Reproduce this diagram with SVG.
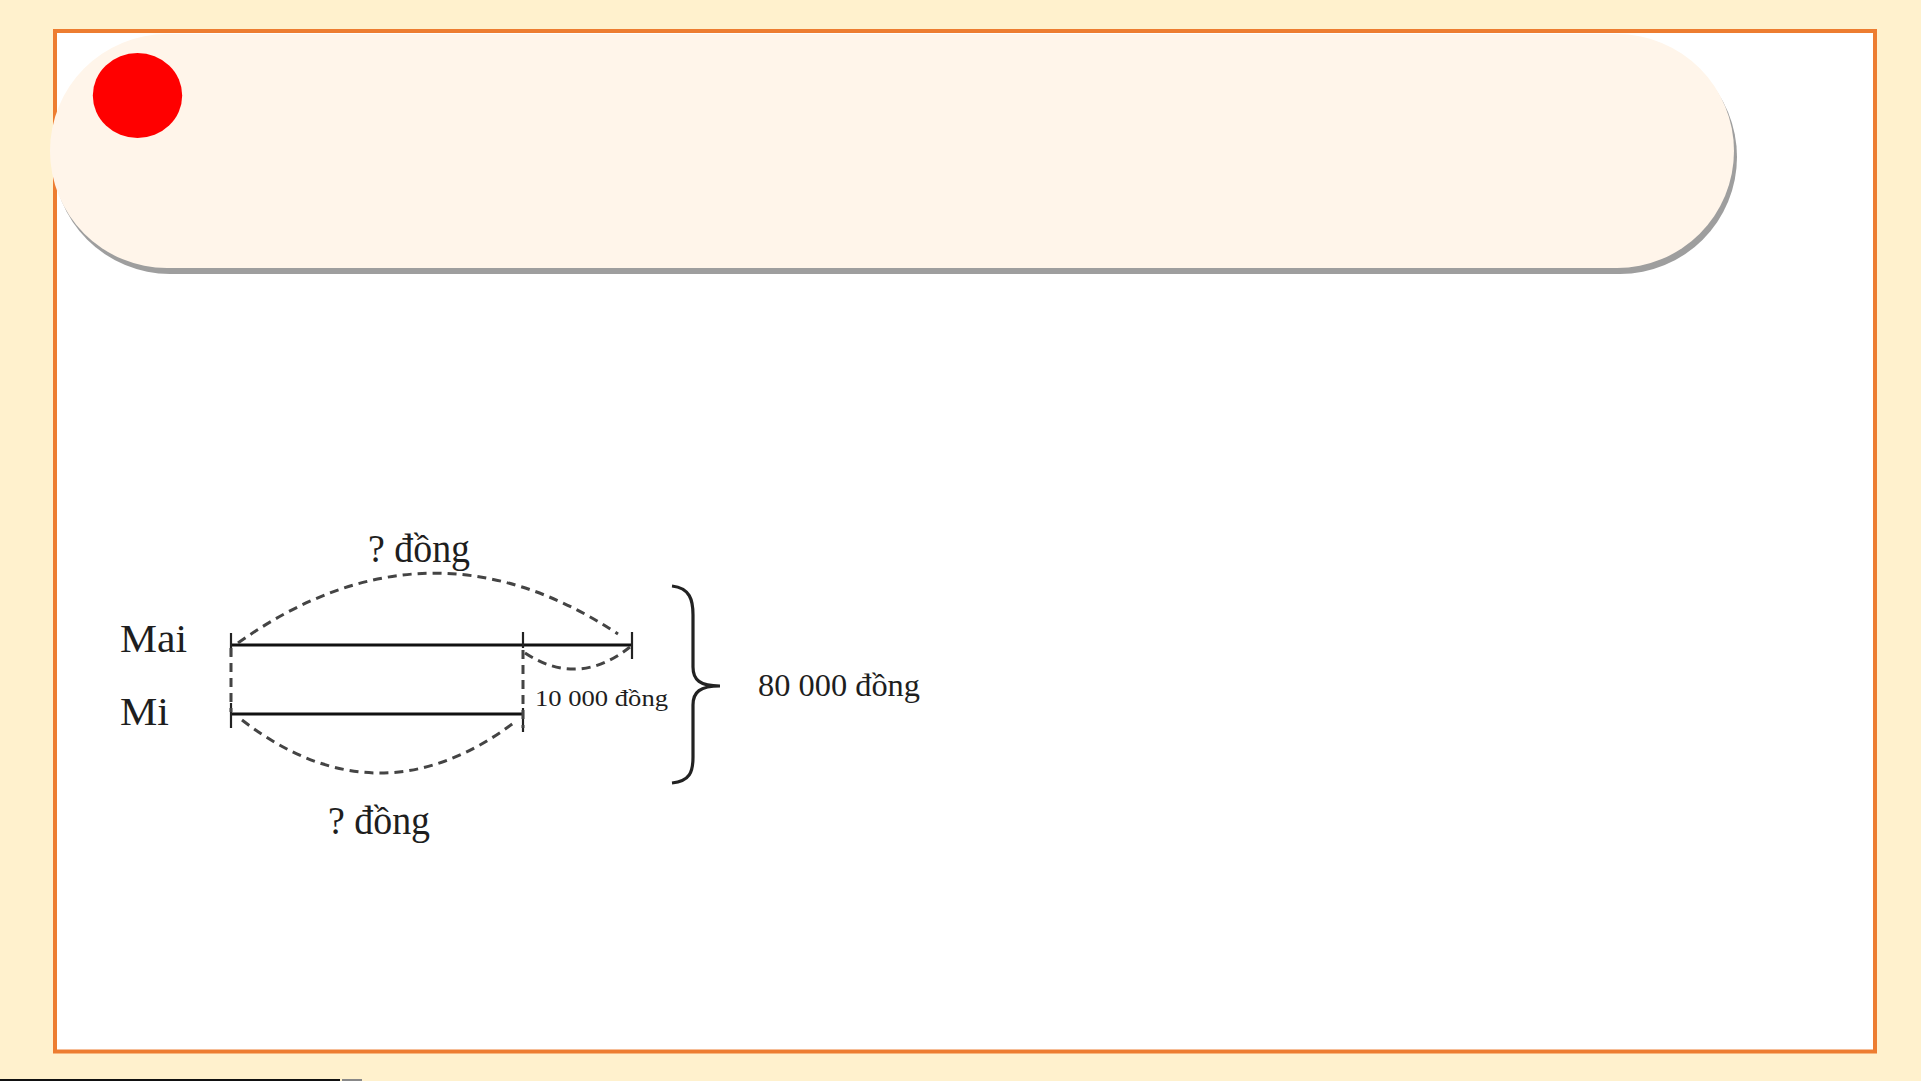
<svg xmlns="http://www.w3.org/2000/svg" width="1921" height="1081" viewBox="0 0 1921 1081">
  <defs>
    <style>
      .lbl { font-family: "Liberation Serif", "Times New Roman", serif; fill: #1e1e1e; }
      .bar { stroke: #111; stroke-width: 3.2; fill: none; }
      .tick { stroke: #222; stroke-width: 2.2; fill: none; }
      .dash { stroke: #444; stroke-width: 3; fill: none; stroke-dasharray: 9 6; }
    </style>
  </defs>
  <rect x="0" y="0" width="1921" height="1081" fill="#FFF1CD"/>
  <rect x="55" y="31" width="1820" height="1020.5" fill="#FFFFFF" stroke="#ED7D31" stroke-width="4"/>
  <g id="header">
    <rect x="53" y="40" width="1684" height="234" rx="117" ry="117" fill="#9E9E9E"/>
    <rect x="50" y="34" width="1684" height="234" rx="117" ry="117" fill="#FFF5EA"/>
    <ellipse cx="137.5" cy="95.5" rx="44.7" ry="42.5" fill="#FF0000"/>
  </g>
  <line x1="0" y1="1080" x2="340" y2="1080" stroke="#111" stroke-width="2"/>
  <line x1="342" y1="1080" x2="362" y2="1080" stroke="#888" stroke-width="2"/>

  <g id="mai">
    <text class="lbl" x="120" y="652" font-size="41" textLength="67" lengthAdjust="spacingAndGlyphs">Mai</text>
    <line class="bar" x1="231" y1="645" x2="632" y2="645"/>
    <line class="tick" x1="231" y1="633" x2="231" y2="656"/>
    <line class="tick" x1="523" y1="632" x2="523" y2="648"/>
    <line class="tick" x1="632" y1="632" x2="632" y2="659"/>
  </g>
  <g id="mi">
    <text class="lbl" x="120" y="725" font-size="41" textLength="49" lengthAdjust="spacingAndGlyphs">Mi</text>
    <line class="bar" x1="231" y1="714" x2="523" y2="714"/>
    <line class="tick" x1="231" y1="703" x2="231" y2="728"/>
    <line class="tick" x1="523" y1="708" x2="523" y2="732"/>
  </g>
  <g id="connectors">
    <line class="dash" x1="231" y1="648" x2="231" y2="712"/>
    <line class="dash" x1="523" y1="650" x2="523" y2="728"/>
    <path class="dash" d="M238,643 Q428,508 618,634"/>
    <path class="dash" d="M525,653 Q578,688 630,647"/>
    <path class="dash" d="M242,720 Q378,825 515,722"/>
    <path d="M672,586 C690,588 693,600 693,615 L693,667 C693,680 700,686 720,686 C700,686 693,692 693,705 L693,757 C693,772 690,781 672,783" fill="none" stroke="#222" stroke-width="3.2"/>
  </g>
  <g id="labels">
    <text class="lbl" x="368" y="562" font-size="40" textLength="102" lengthAdjust="spacingAndGlyphs">? đồng</text>
    <text class="lbl" x="328" y="834" font-size="40" textLength="102" lengthAdjust="spacingAndGlyphs">? đồng</text>
    <text class="lbl" x="535" y="706" font-size="24" textLength="133" lengthAdjust="spacingAndGlyphs">10 000 đồng</text>
    <text class="lbl" x="758" y="696" font-size="31" textLength="162" lengthAdjust="spacingAndGlyphs">80 000 đồng</text>
  </g>
</svg>
